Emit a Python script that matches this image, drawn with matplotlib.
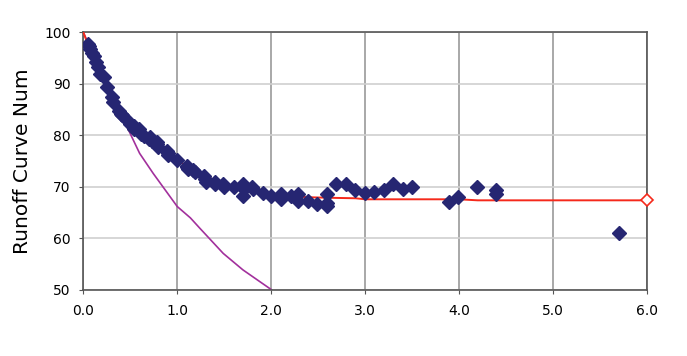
import matplotlib
matplotlib.use('Agg')
import matplotlib.pyplot as plt

plt.rcParams['font.family'] = ['DejaVu Sans']

# observed points (rainfall, CN)
obs_x = [0.05, 0.06, 0.07, 0.09, 0.11, 0.13, 0.16, 0.18, 0.22, 0.25,
         0.30, 0.32, 0.38, 0.40, 0.41, 0.46, 0.50, 0.54, 0.54, 0.59,
         0.61, 0.65, 0.70, 0.71, 0.73, 0.78, 0.78, 0.80, 0.89, 0.90,
         0.90, 1.00, 1.10, 1.10, 1.12, 1.17, 1.19, 1.29, 1.30, 1.31,
         1.40, 1.40, 1.49, 1.50, 1.60, 1.70, 1.71, 1.70, 1.80, 1.81,
         1.91, 2.00, 2.10, 2.11, 2.21, 2.29, 2.29, 2.39, 2.49, 2.59,
         2.59, 2.60, 2.69, 2.80, 2.89, 3.00, 3.10, 3.20, 3.30, 3.40,
         3.50, 3.89, 3.99, 4.19, 4.39, 4.39, 5.70]
obs_y = [97.8, 97.3, 96.8, 96.0, 95.5, 94.2, 93.2, 92.0, 91.3, 89.4,
         87.4, 86.4, 84.8, 84.2, 83.9, 82.9, 82.2, 81.9, 81.3, 81.3,
         80.3, 79.8, 79.3, 79.6, 79.0, 78.7, 78.3, 77.8, 77.0, 76.1,
         76.6, 75.2, 74.1, 73.8, 73.5, 73.2, 72.8, 72.2, 71.5, 71.0,
         70.9, 70.5, 70.6, 69.9, 69.9, 70.6, 69.6, 68.3, 70.0, 69.6,
         68.9, 68.3, 68.6, 67.6, 68.3, 68.6, 67.3, 67.3, 66.7, 68.6,
         66.3, 66.8, 70.6, 70.6, 69.4, 68.8, 69.1, 69.5, 70.6, 69.6,
         70.0, 67.0, 68.0, 70.0, 69.4, 68.6, 61.0]

# fitted curve (red)
fit_x = [0, 0.1, 0.2, 0.3, 0.4, 0.5, 0.6, 0.7, 0.8, 0.9, 1.0, 1.2, 1.4,
         1.6, 1.8, 2.0, 2.2, 2.4, 2.6, 2.9, 3.0, 4.0, 4.2, 6.0]
fit_y = [100, 95.2, 91.2, 87.8, 85.0, 82.7, 80.7, 79.1, 77.7, 76.4, 75.2,
         73.0, 71.3, 70.1, 69.2, 68.6, 68.2, 68.0, 67.9, 67.8, 67.6, 67.6,
         67.4, 67.4]

# standard curve (purple)
std_x = [0, 0.2, 0.43, 0.6, 0.745, 1.0, 1.14, 1.24, 1.49, 1.7, 2.0, 2.03]
std_y = [100, 91.8, 83.0, 76.5, 72.6, 66.2, 64.0, 62.0, 57.1, 53.9, 50.1, 49.6]

fig = plt.figure(figsize=(6.87, 3.56), dpi=100)
ax = fig.add_axes([0.1213, 0.1854, 0.82, 0.7238])

ax.plot(std_x, std_y, color='#a2309c', lw=1.2, zorder=2)
ax.plot(fit_x, fit_y, color='#f5291b', lw=1.4, zorder=3)
ax.plot(obs_x, obs_y, 'D', color='#262672', ms=7.5, mec='#262672', zorder=4)
ax.plot([fit_x[-1]], [fit_y[-1]], 'D', ms=6, mfc='white', mec='#f5291b',
        mew=1.2, zorder=5, clip_on=False)

ax.set_xlim(0, 6)
ax.set_ylim(50, 100)
ax.set_xticks([0, 1, 2, 3, 4, 5, 6])
ax.set_xticklabels(['0.0', '1.0', '2.0', '3.0', '4.0', '5.0', '6.0'])
ax.set_yticks([50, 60, 70, 80, 90, 100])

ax.xaxis.grid(True, color='#9a9a9a', lw=1.2)
ax.yaxis.grid(True, color='#cfcfcf', lw=1.2)
ax.set_axisbelow(True)

for s in ['left', 'bottom', 'top', 'right']:
    ax.spines[s].set_color('#555555')
    ax.spines[s].set_linewidth(1.2)

ax.tick_params(axis='both', labelsize=10, color='#555555', length=3,
               labelcolor='black')
ax.tick_params(axis='x', pad=7)
ax.tick_params(axis='y', pad=6)
ax.set_ylabel('Runoff Curve Num', fontsize=14.5, labelpad=9)

fig.savefig('out.png', dpi=100)
